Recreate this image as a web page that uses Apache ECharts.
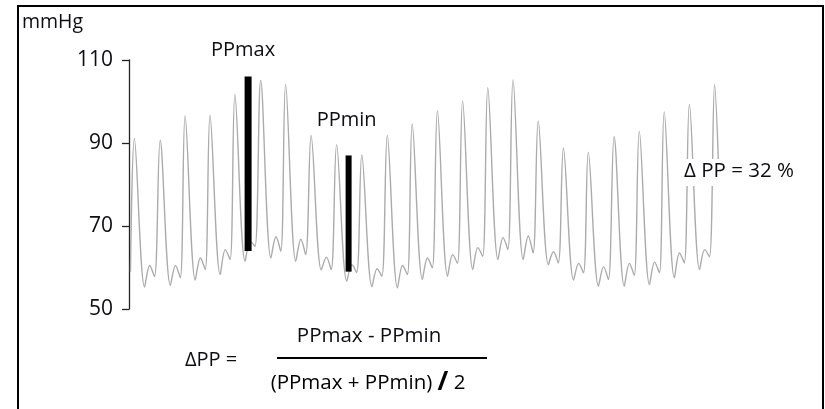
<!DOCTYPE html>
<html>
<head>
<meta charset="utf-8">
<script src="https://cdn.jsdelivr.net/npm/echarts@6/dist/echarts.min.js"></script>
<style>
  html, body { margin: 0; padding: 0; background: #fff; }
  #chart { width: 825px; height: 409px; }
</style>
</head>
<body>
<div id="chart"></div>
<script>
// Arterial pressure trace, beat by beat (time in s, pressure in mmHg)
const peakTime = [0.18, 1.04, 1.87, 2.70, 3.53, 4.39, 5.22, 6.07, 6.92, 7.76, 8.61, 9.44,
                  10.28, 11.12, 11.96, 12.80, 13.64, 14.48, 15.31, 16.17, 17.01, 17.84, 18.68, 19.52];
const systolic = [91.1, 90.7, 96.5, 96.7, 101.7, 105.1, 104.1, 91.8, 89.6, 87.1, 91.8, 94.6,
                  97.8, 100.1, 103.3, 105.2, 95.3, 88.8, 87.8, 91.5, 92.8, 97.5, 99.3, 104.1];
// dicrotic notch, dicrotic wave and end-diastolic pressure following each beat
const notch = [55.3, 55.7, 57.0, 58.3, 61.5, 62.3, 61.5, 59.4, 56.7, 55.4, 55.1, 57.1,
               57.9, 59.5, 61.9, 61.9, 60.7, 57.0, 55.5, 55.5, 55.9, 57.5, 59.5];
const dicroticWave = [60.5, 60.5, 62.3, 64.3, 66.3, 67.4, 66.8, 62.5, 60.7, 59.7, 60.5, 62.3,
                      63.1, 64.8, 67.2, 67.6, 63.8, 61.0, 60.2, 61.0, 61.3, 63.5, 64.3];
const endDiastolic = [57.8, 57.5, 59.5, 61.9, 65.1, 63.9, 63.1, 59.5, 58.8, 57.9, 58.3, 59.9,
                      61.0, 62.7, 64.3, 63.5, 61.1, 58.7, 57.1, 58.1, 58.7, 61.1, 62.6];
const traceStart = [0.05, 59];
const traceEnd = [19.66, 83];
// delay (s) from the systolic peak to the notch, the dicrotic wave and end-diastole
const notchDelay = 0.34, waveDelay = 0.51, endDelay = 0.67;

// pulse pressure of the largest and smallest beats
const ppMaxTime = 3.97, ppMaxRange = [64, 106];
const ppMinTime = 7.32, ppMinRange = [59, 87];

const yMin = 50, yMax = 110, yStep = 20;
const deltaPP = 'Δ PP = 32 %';

const trace = [traceStart];
peakTime.forEach((t, i) => {
  trace.push([t, systolic[i]]);
  if (i < notch.length) {
    trace.push([+(t + notchDelay).toFixed(2), notch[i]]);
    trace.push([+(t + waveDelay).toFixed(2), dicroticWave[i]]);
    trace.push([+(t + endDelay).toFixed(2), endDiastolic[i]]);
  }
});
trace.push(traceEnd);

const FONT = '"Open Sans", "Liberation Sans", sans-serif';
const INK = '#0d0d12';

// vertical pulse-pressure bar from diastolic to systolic value
function ppBar(name, t, range, width) {
  return {
    name: name,
    type: 'line',
    data: [[t, range[0]], [t, range[1]]],
    showSymbol: false,
    symbol: 'none',
    lineStyle: { color: '#000', width: width, cap: 'butt' },
    silent: true,
    z: 5
  };
}
// caption sitting above the top of a bar
function ppCaption(name, t, range, offset) {
  return {
    name: name + ' label',
    type: 'scatter',
    data: [[t, range[1]]],
    symbolSize: 1,
    itemStyle: { color: 'rgba(0,0,0,0)', opacity: 1 },
    label: { show: true, formatter: name, position: 'top', offset: offset, distance: 0,
             fontFamily: FONT, fontSize: 20, color: INK, opacity: 1 },
    silent: true,
    z: 6
  };
}

const chart = echarts.init(document.getElementById('chart'), null, { renderer: 'canvas' });
chart.setOption({
  backgroundColor: '#fff',
  animation: false,
  grid: { left: 129, right: 96, top: 60, bottom: 100, containLabel: false },
  xAxis: {
    type: 'value', min: 0, max: 20, show: false
  },
  yAxis: {
    type: 'value', min: yMin, max: yMax, interval: yStep,
    axisLine: { show: true, lineStyle: { color: '#222', width: 1.3 } },
    axisTick: { show: true, length: 7, lineStyle: { color: '#222', width: 1.3 } },
    axisLabel: { margin: 16, fontFamily: FONT, fontSize: 21, color: INK },
    splitLine: { show: false }
  },
  series: [
    {
      name: 'pressure',
      type: 'line',
      data: trace,
      smooth: 0.35,
      showSymbol: false,
      symbol: 'none',
      lineStyle: { color: '#ababab', width: 1.4 },
      silent: true,
      z: 2
    },
    ppBar('PPmax', ppMaxTime, ppMaxRange, 7),
    ppBar('PPmin', ppMinTime, ppMinRange, 6),
    ppCaption('PPmax', ppMaxTime, ppMaxRange, [-5, -16]),
    ppCaption('PPmin', ppMinTime, ppMinRange, [-2, -25])
  ],
  graphic: [
    { type: 'rect', shape: { x: 18, y: 6, width: 805, height: 430 },
      style: { fill: 'none', stroke: '#000', lineWidth: 2 }, silent: true },
    { type: 'text', x: 22, y: 12,
      style: { text: 'mmHg', fontFamily: FONT, fontSize: 19.5, fill: INK } },
    { type: 'text', x: 682, y: 159, z: 10,
      style: { text: deltaPP, fontFamily: FONT, fontSize: 20.5, fill: INK,
               backgroundColor: '#fff', padding: [2, 2, 4, 2] } },
    { type: 'text', x: 185, y: 360,
      style: { text: 'ΔPP =', fontFamily: FONT, fontSize: 20, fill: INK, verticalAlign: 'middle' } },
    { type: 'text', x: 369, y: 336,
      style: { text: 'PPmax - PPmin', fontFamily: FONT, fontSize: 20.5, fill: INK,
               align: 'center', verticalAlign: 'middle' } },
    { type: 'line', shape: { x1: 277, y1: 358, x2: 487, y2: 358 },
      style: { stroke: '#000', lineWidth: 2 } },
    { type: 'text', x: 368, y: 383,
      style: { text: '{n|(PPmax + PPmin) }{s|/}{n| 2}', align: 'center', verticalAlign: 'middle',
               rich: {
                 n: { fontFamily: FONT, fontSize: 20.5, color: INK },
                 s: { fontFamily: FONT, fontSize: 26, fontWeight: 'bold', color: INK }
               } } }
  ]
});
</script>
</body>
</html>
